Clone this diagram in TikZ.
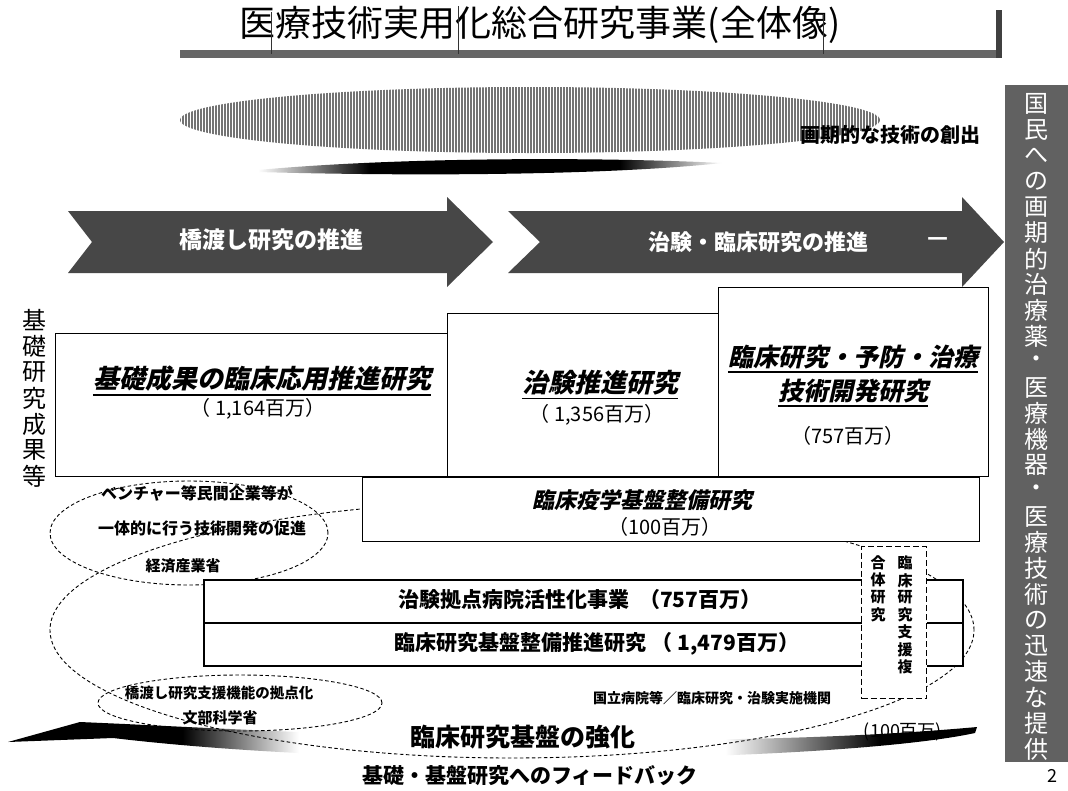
\documentclass[tikz,border=0pt]{standalone}
\usepackage{fontspec}
\setmainfont{Noto Sans CJK JP}
\newfontfamily\sljp{Noto Sans CJK JP}[FakeSlant=0.22]
\usetikzlibrary{patterns.meta,shapes.geometric}
\pgfdeclarehorizontalshading{topsw}{100bp}{color(0bp)=(white); color(25bp)=(white); color(37bp)=(black); color(64bp)=(black); color(75bp)=(white); color(100bp)=(white)}
\pgfdeclarehorizontalshading{botsw}{100bp}{color(0bp)=(black); color(25bp)=(black); color(34bp)=(black); color(40bp)=(white); color(62bp)=(white); color(70bp)=(black); color(75bp)=(black); color(100bp)=(black)}
\newcommand{\fsz}[1]{\fontsize{#1}{#1}\selectfont}
\begin{document}
\begin{tikzpicture}[x=1pt,y=-1pt,
  txt/.style={inner sep=0pt},
  box/.style={draw, line width=0.9pt, fill=white, inner sep=0pt, anchor=north west},
  bar/.style={draw, line width=2.4pt, fill=white, inner sep=0pt, anchor=north west},
  dsh/.style={dash pattern=on 3.5pt off 2.5pt, line width=0.9pt},
  darkarrow/.style={fill=black!72},
  boxtitle/.style={inner sep=0pt, font=\fsz{26}\sljp\bfseries},
  amount/.style={inner sep=0pt, font=\fsz{20}},
  small/.style={inner sep=0pt, font=\fsz{16}\bfseries},
  uline/.style={line width=1.6pt},
  wtxt/.style={inner sep=0pt, text=white, font=\fsz{23}\bfseries},
  vch/.style={inner sep=0pt, font=\fsz{24}},
]
\useasboundingbox (0,0) rectangle (1068,790);
\fill[white] (0,0) rectangle (1068,790);

% ---- title ----
\node[txt, font=\fsz{36}] (title) at (540,25) {医療技術実用化総合研究事業(全体像)};
\fill[black!60] (180,50) rectangle (1001,58);
\fill[black!75] (996,10) rectangle (1002,58);
\draw[line width=0.7pt, black!80] (271,12) -- (271,54) (458,6) -- (458,54) (823,14) -- (823,54);

% ---- banner ----
\path[pattern={Lines[angle=90,distance=3pt,line width=1.3pt]}, pattern color=black!55]
  (530,120) ellipse [x radius=350pt, y radius=33pt];
\path[shading=topsw] (258,170) .. controls (400,157) and (600,157) .. (722,163)
  .. controls (600,176) and (400,176) .. (258,172) -- cycle;
\node[txt, font=\fsz{20}\bfseries] (innov) at (890,135) {画期的な技術の創出};

% ---- arrows ----
\path[darkarrow] (68,211) -- (447,211) -- (447,197) -- (493,242) -- (447,287) -- (447,273) -- (68,273) -- (92,242) -- cycle;
\path[darkarrow] (508,211) -- (962,211) -- (962,197) -- (1004,242) -- (962,287) -- (962,273) -- (508,273) -- (540,242) -- cycle;
\node[wtxt] (ar1) at (271,240) {橋渡し研究の推進};
\node[wtxt, font=\fsz{22}\bfseries] (ar2) at (758,242) {治験・臨床研究の推進};
\node[wtxt] (ar2d) at (938,242) {—};

% ---- right bar ----
\fill[black!62] (1005,85) rectangle (1068,762);
\foreach \c [count=\i from 0] in {国,民,へ,の,画,期,的,治,療,薬,・,医,療,機,器,・,医,療,技,術,の,迅,速,な,提,供}
  \node[vch, text=white] (r\i) at (1036,104+25.8*\i) {\c};

% ---- left vertical ----
\foreach \c [count=\i from 0] in {基,礎,研,究,成,果,等}
  \node[vch] (l\i) at (35,320+26*\i) {\c};

% ---- bottom swoosh ----
\path[shading=botsw] (8,742) -- (80,722) -- (125,724) .. controls (350,735) and (700,752) .. (977,727)
  -- (975,733) .. controls (850,760) and (400,772) .. (113,738) -- cycle;

% ---- dashed ellipses ----
\draw[dsh] (512,630) ellipse [x radius=462pt, y radius=128pt];
\node[ellipse, draw, dsh, minimum width=278pt, minimum height=104pt, inner sep=0pt] (e1) at (189,533) {};
\node[ellipse, draw, dsh, minimum width=284pt, minimum height=56pt, inner sep=0pt] (e2) at (240,703) {};

% ---- boxes ----
\node[box, minimum width=392pt, minimum height=143pt] (b1) at (55,333) {};
\node[box, minimum width=271pt, minimum height=163pt] (b2) at (447,313) {};
\node[box, minimum width=270pt, minimum height=189pt] (b3) at (718,287) {};
\node[box, minimum width=617pt, minimum height=64pt] (b4) at (362,477) {};
\node[bar, minimum width=759pt, minimum height=43pt] (bar1) at (203,579) {};
\node[bar, minimum width=759pt, minimum height=43pt] (bar2) at (203,622) {};
\node[draw, fill=white, dash pattern=on 6pt off 3pt, line width=1.3pt, inner sep=0pt, anchor=north west,
  minimum width=65pt, minimum height=152pt] (dbox) at (861,546) {};

% ---- box texts ----
\node[boxtitle] (t1) at (262,379) {基礎成果の臨床応用推進研究};
\draw[uline] ([yshift=-3pt]t1.south west) -- ([yshift=-3pt]t1.south east);
\node[amount] (a1) at (258,409) {（ 1,164百万）};
\node[boxtitle] (t2) at (600,383) {治験推進研究};
\draw[uline] ([yshift=-3pt]t2.south west) -- ([yshift=-3pt]t2.south east);
\node[amount] (a2) at (597,415) {（ 1,356百万）};
\node[boxtitle, font=\fsz{25}\sljp\bfseries] (t3a) at (853,357) {臨床研究・予防・治療};
\draw[uline] ([yshift=-3pt]t3a.south west) -- ([yshift=-3pt]t3a.south east);
\node[boxtitle, font=\fsz{25}\sljp\bfseries] (t3b) at (853,391) {技術開発研究};
\draw[uline] ([yshift=-3pt]t3b.south west) -- ([yshift=-3pt]t3b.south east);
\node[amount] (a3) at (848,436) {（757百万）};
\node[boxtitle, font=\fsz{22}\sljp\bfseries] (t4) at (642,500) {臨床疫学基盤整備研究};
\node[amount] (a4) at (665,527) {（100百万）};

\node[txt, font=\fsz{21}\bfseries] (bt1) at (580,600) {治験拠点病院活性化事業\ \ （757百万）};
\node[txt, font=\fsz{21}\bfseries] (bt2) at (597,644) {臨床研究基盤整備推進研究\ （ 1,479百万）};

\foreach \c [count=\i from 0] in {臨,床,研,究,支,援,複}
  \node[txt, font=\fsz{15}\bfseries] (dr\i) at (905,563+17.3*\i) {\c};
\foreach \c [count=\i from 0] in {合,体,研,究}
  \node[txt, font=\fsz{15}\bfseries] (dl\i) at (878,563+17.3*\i) {\c};

% ---- ellipse texts ----
\node[small] (e1a) at (197,493) {ベンチャー等民間企業等が};
\node[small] (e1b) at (202,528) {一体的に行う技術開発の促進};
\node[small, font=\fsz{15}\bfseries] (e1c) at (183,566) {経済産業省};
\node[small, font=\fsz{14.5}\bfseries] (e2a) at (219,693) {橋渡し研究支援機能の拠点化};
\node[small, font=\fsz{15}\bfseries] (e2b) at (220,718) {文部科学省};

\node[txt, font=\fsz{14}\bfseries] (inst) at (712,698) {国立病院等／臨床研究・治験実施機関};
\node[txt, font=\fsz{18}] (a5) at (903,732) {(100百万)};
\node[txt, font=\fsz{25}\bfseries] (base) at (523,737) {臨床研究基盤の強化};
\node[txt, font=\fsz{21}\bfseries] (fb) at (530,776) {基礎・基盤研究へのフィードバック};
\node[txt, font=\fsz{18}] (pg) at (1052,776) {2};
\end{tikzpicture}
\end{document}
